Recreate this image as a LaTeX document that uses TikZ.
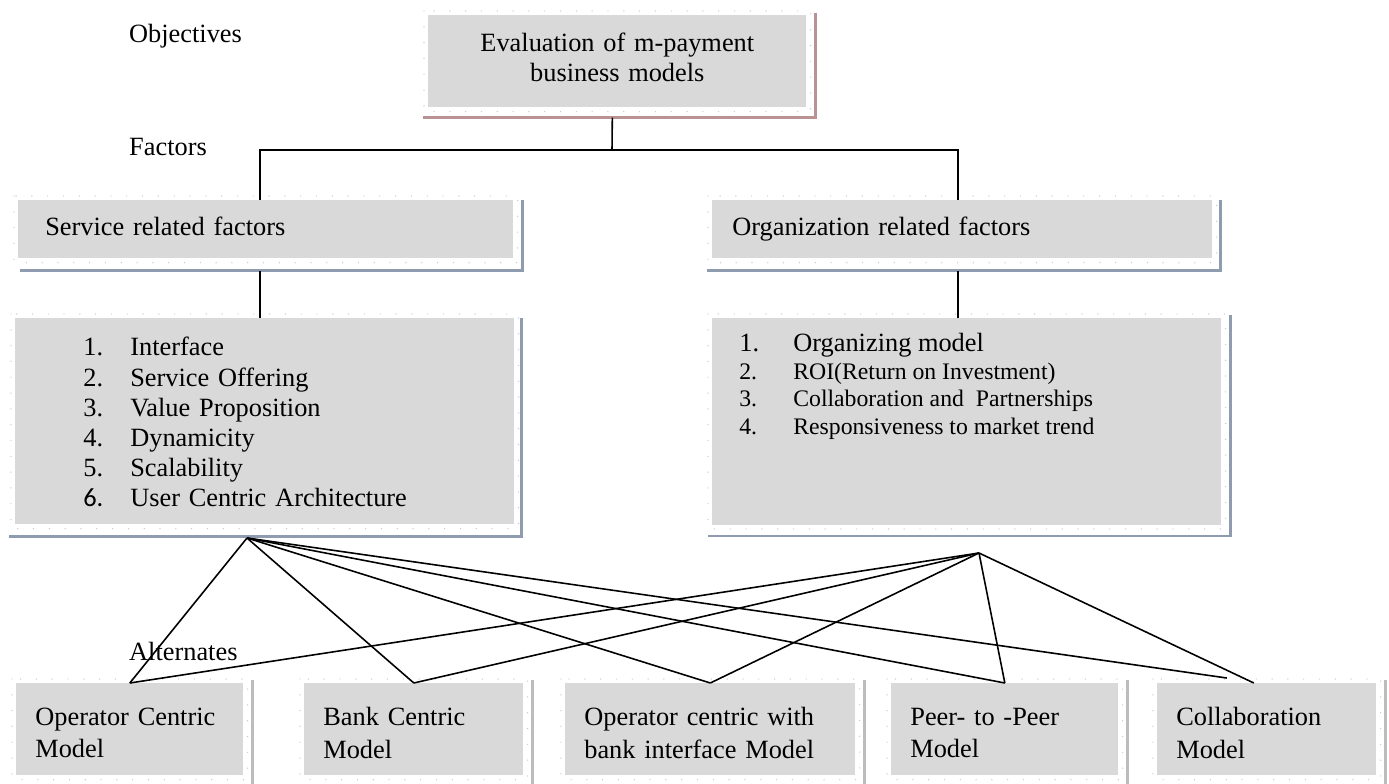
\documentclass[tikz,border=0pt]{standalone}
\usepackage{fontspec}
\setmainfont{Liberation Serif}
\newfontfamily\calibrifont{Carlito}
\usetikzlibrary{
    calc
}
\definecolor{boxgray}{RGB}{217,217,217}
\definecolor{dotgray}{RGB}{200,200,200}
\definecolor{shadowblue}{RGB}{143,156,176}
\definecolor{shadowrose}{RGB}{185,146,147}
\definecolor{sepgray}{RGB}{188,188,188}
\tikzset{
    % --- Grey filled box (objective, factor, alternate) ---
    gbox/.style = {
        rectangle, fill=boxgray, anchor=north west,
        font={\fontsize{15}{17.5}\selectfont}
    },
    % --- Left aligned text inside a box ---
    ltext/.style = {
        align=left
    },
    % --- Two-line alternate box ---
    alt/.style = {
        gbox, ltext, inner xsep=0.38cm, minimum height=1.84cm,
        font={\fontsize{15}{18.6}\selectfont}, text depth=14.6pt
    },
    % --- Light dotted frame round a box ---
    dot frame/.style = {
        draw=dotgray, line width=0.8pt, line cap=round,
        dash pattern=on 0pt off 9pt
    },
    % --- Shadow edge (right and bottom) ---
    shadow edge/.style = {
        draw=shadowblue, line width=1.6pt
    },
    rose edge/.style = {
        draw=shadowrose, line width=1.6pt
    },
    % --- Separator between alternates ---
    sep line/.style = {
        draw=sepgray, line width=1.5pt
    },
    % --- Level label (left margin) ---
    level/.style = {
        anchor=west, font={\fontsize{15}{17.5}\selectfont}
    },
    % --- Connector ---
    link/.style = {
        line width=0.9pt
    }
}

\begin{document}
\begin{tikzpicture}[x=0.02cm, y=-0.02cm]
\useasboundingbox (0,0) rectangle (1389,784);

% ---------------------------------------------------------
% Level labels
% ---------------------------------------------------------
\node[level] (Lbl_Obj) at (123,36) {Objectives};
\node[level] (Lbl_Fac) at (123,147) {Factors};
\node[level] (Lbl_Alt) at (123,651) {Alternates};

% ---------------------------------------------------------
% Objective
% ---------------------------------------------------------
\node[gbox, align=center, text width=7.56cm, inner xsep=0pt,
      minimum height=1.84cm, text depth=22.3pt] (Eval) at (428,15) {%
    Evaluation of m-payment\\
    business models
};

% ---------------------------------------------------------
% Factors
% ---------------------------------------------------------
\node[gbox, ltext, text width=8.82cm, inner xsep=0.54cm,
      minimum height=1.16cm] (Svc_F) at (18,200) {\strut Service related factors};

\node[gbox, ltext, text width=9.2cm, inner xsep=0.4cm,
      minimum height=1.16cm] (Org_F) at (712,200) {\strut Organization related factors};

% ---------------------------------------------------------
% Criteria lists
% ---------------------------------------------------------
\node[gbox, ltext, text width=7.26cm, inner xsep=1.36cm,
      minimum height=4.12cm] (Svc_L) at (15,318) {%
    \fontsize{15}{17.2}\selectfont
    \raisebox{-2.3pt}[\height][\depth]{\begin{tabular}{@{}p{0.94cm}@{}l@{}}
        1. & Interface\\
        2. & Service Offering\\
        3. & Value Proposition\\
        4. & Dynamicity\\
        5. & Scalability\\
        {\calibrifont 6.} & User Centric Architecture
    \end{tabular}}
};

\node[gbox, inner xsep=0.54cm, inner ysep=7.5pt] (Org_L) at (712,318) {%
    \begin{minipage}[t][102.4pt][t]{9.1cm}
    \fontsize{13.5}{15.9}\selectfont
    \begin{tabular}[t]{@{}p{1.08cm}@{}l@{}}
        {\fontsize{15}{17}\selectfont 1.} & {\fontsize{15}{17}\selectfont Organizing model}\\
        2. & ROI(Return on Investment)\\
        3. & Collaboration and\ \ Partnerships\\
        4. & Responsiveness to market trend
    \end{tabular}
    \end{minipage}
};

% ---------------------------------------------------------
% Alternates
% ---------------------------------------------------------
\node[alt, text width=3.78cm] (Alt_Op) at (16,683) {Operator Centric\\Model};
\node[alt, text width=3.62cm] (Alt_Bank) at (304,683) {Bank Centric\\Model};
\node[alt, text width=5.04cm] (Alt_OpBank) at (565,683) {Operator centric with\\bank interface Model};
\node[alt, text width=3.78cm] (Alt_P2P) at (891,683) {Peer- to -Peer\\Model};
\node[alt, text width=3.62cm] (Alt_Collab) at (1157,683) {Collaboration\\Model};

% ---------------------------------------------------------
% Dotted frames, shadows and separators
% ---------------------------------------------------------
\foreach \n in {Eval,Svc_F,Org_F,Svc_L,Org_L,Alt_Op,Alt_Bank,Alt_OpBank,Alt_P2P,Alt_Collab}
    \draw[dot frame] ($(\n.north west)+(-4,-4)$) rectangle ($(\n.south east)+(4,4)$);

\draw[rose edge] ($(Eval.north east)+(9,-2)$) |- ($(Eval.south west)+(-5,10)$);
\draw[shadow edge] ($(Svc_F.north east)+(9,0)$) |- ($(Svc_F.south west)+(2,12)$);
\draw[shadow edge] ($(Org_F.north east)+(8,0)$) |- ($(Org_F.south west)+(-5,12)$);
\draw[shadow edge] ($(Svc_L.north east)+(7,0)$) |- ($(Svc_L.south west)+(-6,12)$);
\draw[shadow edge] ($(Org_L.north east)+(9,-3)$) |- ($(Org_L.south west)+(-4,11)$);

\foreach \n in {Alt_Op,Alt_Bank,Alt_OpBank,Alt_P2P,Alt_Collab}
    \draw[sep line] ($(\n.north east)+(9,-3)$) -- ($(\n.south east)+(9,9)$);

% ---------------------------------------------------------
% Tree: objective -> factors -> criteria
% ---------------------------------------------------------
\coordinate (Fork) at (612,150);
\coordinate (Fork_L) at (260,150);
\coordinate (Fork_R) at (958,150);

\draw[link] ($(Eval.south)+(-5,10)$) -- (Fork);
\draw[link] (Svc_F.north -| Fork_L) |- (Fork_R) -- (Org_F.north -| Fork_R);
\draw[link] ($(Svc_F.south -| Fork_L)+(0,12)$) -- (Svc_L.north -| Fork_L);
\draw[link] ($(Org_F.south -| Fork_R)+(0,12)$) -- (Org_L.north -| Fork_R);

% ---------------------------------------------------------
% Criteria -> alternates
% ---------------------------------------------------------
\coordinate (Svc_Out) at (247,538);
\coordinate (Org_Out) at (979,553);

\foreach \t in {Alt_Op,Alt_Bank,Alt_OpBank,Alt_P2P} {
    \draw[link] (Svc_Out) -- (\t.north);
    \draw[link] (Org_Out) -- (\t.north);
}
\draw[link] (Svc_Out) -- ($(Alt_Collab.north)+(-40,-5)$);
\draw[link] (Org_Out) -- ($(Alt_Collab.north)+(-13,0)$);

\end{tikzpicture}
\end{document}
